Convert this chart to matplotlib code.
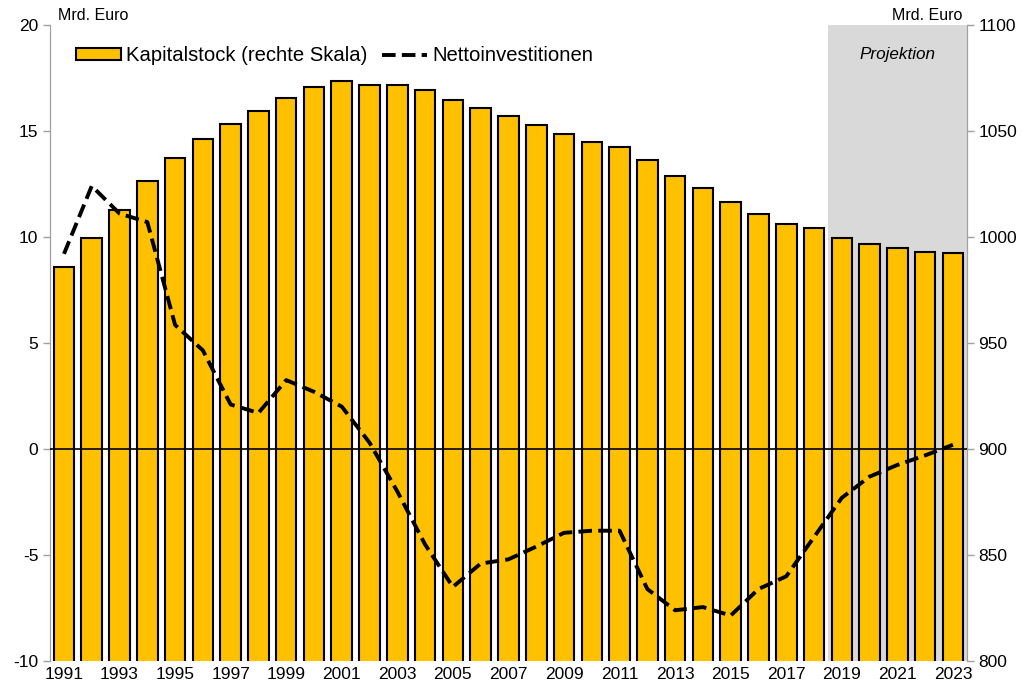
import matplotlib.pyplot as plt
import numpy as np

plt.rcParams['font.family'] = ['Liberation Sans', 'DejaVu Sans']
plt.rcParams['axes.unicode_minus'] = False

years = list(range(1991, 2024))
# Kapitalstock, Mrd. Euro (rechte Skala)
kapitalstock = [985.8, 999.7, 1012.6, 1026.3, 1037.0, 1046.0, 1053.1, 1059.4, 1065.4,
                1070.6, 1073.7, 1071.7, 1071.7, 1069.2, 1064.7, 1060.8, 1056.9, 1052.6,
                1048.4, 1044.9, 1042.4, 1036.2, 1028.7, 1023.1, 1016.5, 1010.6, 1005.9,
                1004.0, 999.7, 996.5, 994.7, 993.1, 992.2]
# Nettoinvestitionen, Mrd. Euro (linke Skala)
netto = [9.2, 12.4, 11.1, 10.7, 5.85, 4.65, 2.1, 1.7, 3.25, 2.7, 2.0, 0.3, -2.0,
         -4.5, -6.5, -5.4, -5.2, -4.6, -3.95, -3.85, -3.85, -6.6, -7.6, -7.45, -7.85,
         -6.6, -6.0, -4.15, -2.3, -1.3, -0.75, -0.3, 0.2]
projektion_start = 2019

x = np.arange(len(years))

fig = plt.figure(figsize=(10.22, 6.88), dpi=100)
ax = fig.add_axes([0.049, 0.039, 0.897, 0.925])
ax2 = ax.twinx()

# Projektionszeitraum grau hinterlegt
p0 = years.index(projektion_start) - 0.5
ax2.axvspan(p0, len(years) - 0.5, color='#d9d9d9', zorder=0, lw=0)
ax2.bar(x, kapitalstock, width=0.74, color='#FFC000', edgecolor='black', lw=1.5,
        zorder=2, label='Kapitalstock (rechte Skala)')
ax2.set_ylim(800, 1100)
ax2.set_yticks(np.arange(800, 1101, 50))

ax.set_zorder(ax2.get_zorder() + 1)
ax.patch.set_visible(False)
ax.axhline(0, color='black', lw=1.2, zorder=3)
ax.plot(x, netto, color='black', lw=2.8, dashes=(3.5, 1.6), zorder=4,
        label='Nettoinvestitionen')
ax.set_ylim(-10, 20)
ax.set_yticks(np.arange(-10, 21, 5))
ax.set_xlim(-0.5, len(years) - 0.5)
ax.set_xticks(x[::2])
ax.set_xticklabels([str(y) for y in years[::2]])

for a in (ax, ax2):
    for s in a.spines.values():
        s.set_color('#a0a0a0')
    a.spines['top'].set_visible(False)
    a.spines['bottom'].set_visible(False)
    a.tick_params(axis='y', labelsize=12.5, color='#a0a0a0', length=5, width=1)
    a.tick_params(axis='x', labelsize=12.5, length=0, pad=4)

ax.text(0.009, 1.003, 'Mrd. Euro', transform=ax.transAxes, fontsize=11.5,
        ha='left', va='bottom')
ax2.text(0.995, 1.003, 'Mrd. Euro', transform=ax.transAxes, fontsize=11.5,
         ha='right', va='bottom')
ax2.text((p0 + len(years) - 0.5) / 2, 1086, 'Projektion', fontsize=12.3,
         style='italic', ha='center', va='center', zorder=5)

h1, l1 = ax2.get_legend_handles_labels()
h2, l2 = ax.get_legend_handles_labels()
ax.legend(h1 + h2, l1 + l2, loc='upper left', bbox_to_anchor=(0.015, 0.985),
          ncol=2, frameon=False, fontsize=14.6, handlelength=2.2,
          handleheight=0.55, handletextpad=0.25, columnspacing=0.75,
          borderaxespad=0.2)

fig.savefig('out.png', dpi=100)
